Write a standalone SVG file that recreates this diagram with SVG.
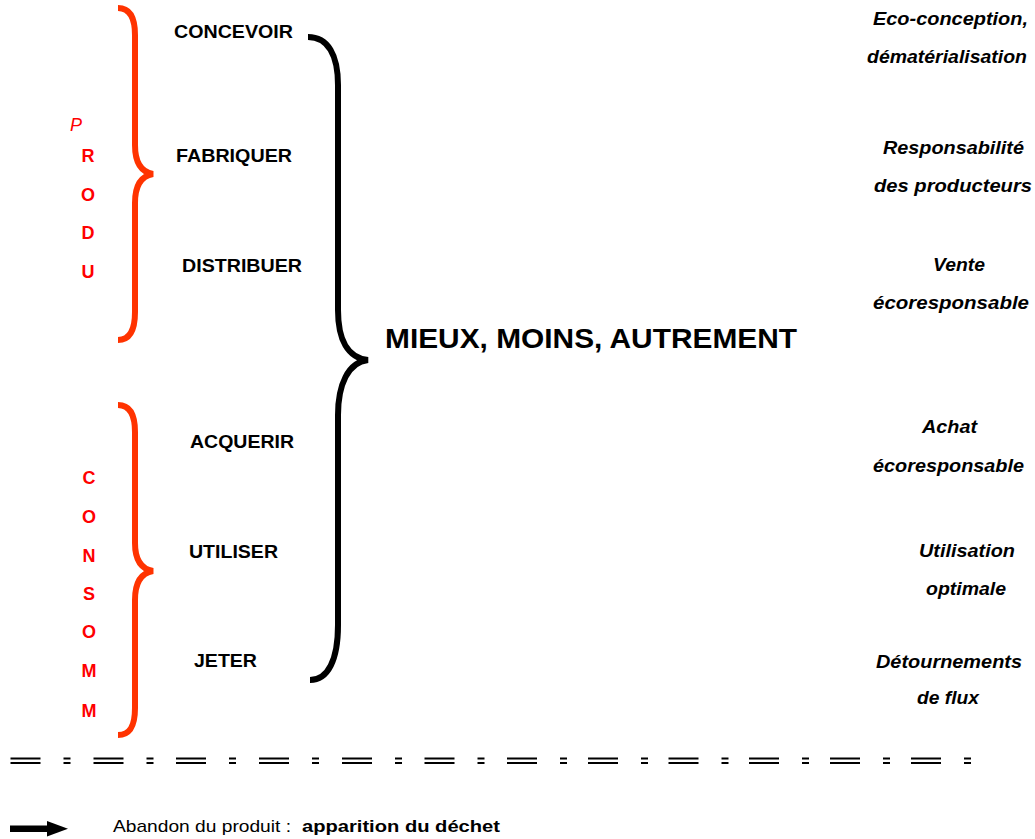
<svg xmlns="http://www.w3.org/2000/svg" width="1035" height="839" viewBox="0 0 1035 839">
<style>
text{font-family:"Liberation Sans",Arial,Helvetica,sans-serif}
.lbl{font-weight:bold;font-size:18px;fill:#000}
.big{font-weight:bold;font-size:28px;fill:#000}
.red{font-weight:bold;font-size:18px;fill:#FF0000;text-anchor:middle}
.redi{font-style:italic;font-size:18px;fill:#FF0000}
.note{font-weight:bold;font-style:italic;font-size:18px;fill:#000}
.leg{font-size:17px;fill:#000}
.bred{fill:none;stroke:#FF3300;stroke-width:6}
.bblk{fill:none;stroke:#000;stroke-width:6}
.sep{fill:none;stroke:#000;stroke-width:2}
</style>
<rect width="1035" height="839" fill="#fff"/>
<g id="connectors">
<path id="brace-produ" class="bred" d="M118,8 C130,8 135,18 135,35 L135,145 C135,162 141,172 153,174 C141,176 135,186 135,203 L135,312 C135,330 130,340 118,340"/>
<path id="brace-consomm" class="bred" d="M118,405 C130,405 135,415 135,432 L135,543 C135,560 141,569 153,571 C141,573 135,583 135,600 L135,708 C135,726 130,735 118,735"/>
<path id="brace-main" class="bblk" d="M308,37 C328,37 338,55 338,85 L338,310 C338,340 348,358 368,360 C348,362 338,385 338,415 L338,625 C338,660 328,680 310,680"/>
</g>
<g id="produ">
<text class="redi" x="70" y="131">P</text>
<text class="red" x="88" y="162">R</text>
<text class="red" x="88" y="201">O</text>
<text class="red" x="88" y="239">D</text>
<text class="red" x="88" y="278">U</text>
</g>
<g id="consomm">
<text class="red" x="89" y="484">C</text>
<text class="red" x="89" y="523">O</text>
<text class="red" x="89" y="562">N</text>
<text class="red" x="89" y="600">S</text>
<text class="red" x="89" y="638">O</text>
<text class="red" x="89" y="677">M</text>
<text class="red" x="89" y="717">M</text>
</g>
<g id="concevoir"><text class="lbl" x="174" y="38" textLength="119" lengthAdjust="spacingAndGlyphs">CONCEVOIR</text></g>
<g id="fabriquer"><text class="lbl" x="176" y="162" textLength="116" lengthAdjust="spacingAndGlyphs">FABRIQUER</text></g>
<g id="distribuer"><text class="lbl" x="182" y="272" textLength="120" lengthAdjust="spacingAndGlyphs">DISTRIBUER</text></g>
<g id="acquerir"><text class="lbl" x="190" y="448" textLength="104" lengthAdjust="spacingAndGlyphs">ACQUERIR</text></g>
<g id="utiliser"><text class="lbl" x="189" y="558" textLength="89" lengthAdjust="spacingAndGlyphs">UTILISER</text></g>
<g id="jeter"><text class="lbl" x="194" y="667" textLength="63" lengthAdjust="spacingAndGlyphs">JETER</text></g>
<g id="mieux"><text class="big" x="385" y="348" textLength="412" lengthAdjust="spacingAndGlyphs">MIEUX, MOINS, AUTREMENT</text></g>
<g id="note-concevoir">
<text class="note" x="873" y="25" textLength="155" lengthAdjust="spacingAndGlyphs">Eco-conception,</text>
<text class="note" x="867" y="63" textLength="160" lengthAdjust="spacingAndGlyphs">dématérialisation</text>
</g>
<g id="note-fabriquer">
<text class="note" x="883" y="154" textLength="141" lengthAdjust="spacingAndGlyphs">Responsabilité</text>
<text class="note" x="874" y="192" textLength="158" lengthAdjust="spacingAndGlyphs">des  producteurs</text>
</g>
<g id="note-distribuer">
<text class="note" x="933" y="271" textLength="52" lengthAdjust="spacingAndGlyphs">Vente</text>
<text class="note" x="873" y="309" textLength="156" lengthAdjust="spacingAndGlyphs">écoresponsable</text>
</g>
<g id="note-acquerir">
<text class="note" x="922" y="433" textLength="55" lengthAdjust="spacingAndGlyphs">Achat</text>
<text class="note" x="873" y="472" textLength="151" lengthAdjust="spacingAndGlyphs">écoresponsable</text>
</g>
<g id="note-utiliser">
<text class="note" x="919" y="557" textLength="96" lengthAdjust="spacingAndGlyphs">Utilisation</text>
<text class="note" x="926" y="595" textLength="80" lengthAdjust="spacingAndGlyphs">optimale</text>
</g>
<g id="note-jeter">
<text class="note" x="876" y="668" textLength="146" lengthAdjust="spacingAndGlyphs">Détournements</text>
<text class="note" x="917" y="704" textLength="62" lengthAdjust="spacingAndGlyphs">de flux</text>
</g>
<g id="separator">
<path class="sep" d="M10.5,758.5h30M63.5,758.5h7M93.5,758.5h30M146.5,758.5h7M176,758.5h30M229,758.5h7M259,758.5h30M312,758.5h7M342,758.5h30M395,758.5h7M424.5,758.5h30M477.5,758.5h7M507,758.5h30M560,758.5h7M588,758.5h30M641,758.5h7M668.5,758.5h30M721.5,758.5h7M749,758.5h30M802,758.5h7M830,758.5h30M883,758.5h7M911,758.5h30M964,758.5h7"/>
<path class="sep" d="M10.5,763h30M63.5,763h7M93.5,763h30M146.5,763h7M176,763h30M229,763h7M259,763h30M312,763h7M342,763h30M395,763h7M424.5,763h30M477.5,763h7M507,763h30M560,763h7M588,763h30M641,763h7M668.5,763h30M721.5,763h7M749,763h30M802,763h7M830,763h30M883,763h7M911,763h30M964,763h7"/>
</g>
<g id="legend">
<rect x="10" y="825.5" width="38" height="6.5" fill="#000"/>
<polygon points="47,821 68,828.7 47,836.4" fill="#000"/>
<text class="leg" x="113" y="832" textLength="178" lengthAdjust="spacingAndGlyphs">Abandon du produit :</text>
<text class="leg" x="302" y="832" font-weight="bold" textLength="198" lengthAdjust="spacingAndGlyphs">apparition du déchet</text>
</g>
</svg>
